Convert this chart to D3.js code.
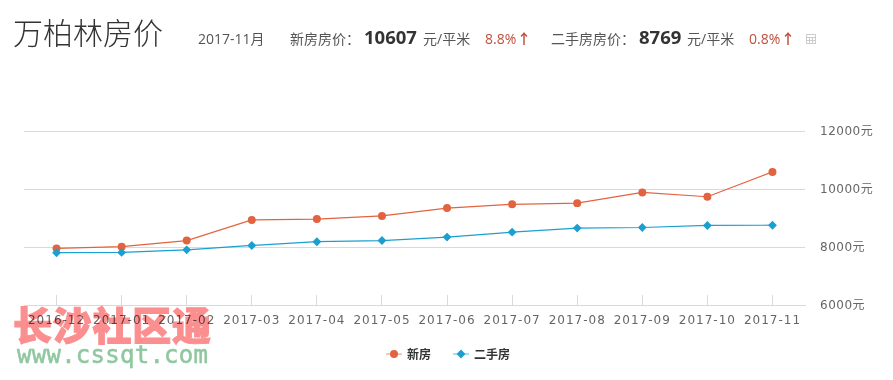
<!DOCTYPE html>
<html>
<head>
  <meta charset="utf-8">
  <title>万柏林房价</title>
  <script src="https://d3js.org/d3.v7.min.js"></script>
  <style>
  html, body{
    margin: 0;
    background: #fff;
    overflow: hidden;
  }
  svg text{
    font-family: "Open Sans", "Noto Sans CJK SC", sans-serif;
  }
  .axis path,
  .axis line {
    fill: none;
    stroke: #d9d9d9;
    shape-rendering: crispEdges;
  }
  .axis text {
    fill: #666;
    font-family: "DejaVu Sans", "Noto Sans CJK SC", sans-serif;
    font-size: 12px;
    letter-spacing: 1px;
  }
  .axis.y-labels text {
    letter-spacing: 0.5px;
  }
  </style>
</head>
<body>
  <div id="chart"></div>
  <script>
  var months = ["2016-12","2017-01","2017-02","2017-03","2017-04","2017-05","2017-06","2017-07","2017-08","2017-09","2017-10","2017-11"]
  var newHouse = [7970,8030,8240,8950,8980,9090,9360,9490,9530,9900,9750,10607]
  var oldHouse = [7820,7830,7920,8070,8200,8240,8360,8530,8670,8690,8760,8769]
  var yTicks = [6000,8000,10000,12000]
  var legendNames = ["新房","二手房"]

  var red = "#e2633f", blue = "#1b9fd0"

  var svg = d3.select("#chart").append("svg")
    .attr("width", 893)
    .attr("height", 380)

  // header line
  function label(x, y, str, size, color, weight){
    return svg.append("text").attr("x", x).attr("y", y).text(str)
      .style("font-size", size + "px")
      .style("fill", color)
      .style("font-weight", weight || 400)
  }
  label(13, 44, "万柏林房价", 30, "#333", 300)
  label(198, 44, "2017-11月", 14, "#555")
  label(290, 44, "新房房价：", 14, "#555")
  label(364, 44, "10607", 18.5, "#333", 700)
  label(423, 44, "元/平米", 14, "#555")
  label(485, 44, "8.8%", 14, "#c0503c")
  label(517, 44, "↑", 14, "#c0503c").style("font-weight", 700)
  label(551, 44, "二手房房价：", 14, "#555")
  label(639, 44, "8769", 18.5, "#333", 700)
  label(687, 44, "元/平米", 14, "#555")
  label(749, 44, "0.8%", 14, "#c0503c")
  label(781, 44, "↑", 14, "#c0503c").style("font-weight", 700)

  // small table icon
  var icon = svg.append("g").attr("transform", "translate(806,34)")
    .attr("fill", "none").attr("stroke", "#ccc").style("shape-rendering", "crispEdges")
  icon.append("rect").attr("x", 0.5).attr("y", 0.5).attr("width", 9).attr("height", 9)
  icon.append("path").attr("d", "M0.5,3.5H9.5M0.5,6.5H9.5M3.5,3.5V9.5M6.5,3.5V9.5")

  // chart
  var x = d3.scaleBand().domain(months).range([24, 805])
  var y = d3.scaleLinear().domain([6000, 12000]).range([305.5, 131.5])

  var grid = svg.append("g").attr("class", "axis")
  grid.selectAll("line").data(yTicks).enter().append("line")
    .attr("x1", 24).attr("x2", 805)
    .attr("y1", function(d){ return Math.floor(y(d)) + 0.5 })
    .attr("y2", function(d){ return Math.floor(y(d)) + 0.5 })

  var yAxis = svg.append("g").attr("class", "axis y-labels")
    .attr("transform", "translate(820,-1)")
    .call(d3.axisRight(y).tickValues(yTicks).tickSize(0).tickPadding(0).tickFormat(function(d){ return d + "元" }))
  yAxis.select(".domain").remove()

  var xAxis = svg.append("g").attr("class", "axis")
    .attr("transform", "translate(0,305)")
    .call(d3.axisBottom(x).tickSize(-10).tickPadding(10).tickSizeOuter(0))
  xAxis.selectAll("text").attr("dy", "0.35em").attr("y", 15)

  var line = d3.line()
    .x(function(d, i){ return x(months[i]) + x.bandwidth() / 2 })
    .y(function(d){ return y(d) })

  function drawSeries(values, color, symbol, size){
    svg.append("path").attr("d", line(values))
      .attr("fill", "none").attr("stroke", color).attr("stroke-width", 1.2)
    svg.selectAll(null).data(values).enter().append("path")
      .attr("d", d3.symbol().type(symbol).size(size))
      .attr("fill", color)
      .attr("transform", function(d, i){
        return "translate(" + (x(months[i]) + x.bandwidth() / 2) + "," + y(d) + ")"
      })
  }
  drawSeries(newHouse, red, d3.symbolCircle, 50)
  drawSeries(oldHouse, blue, d3.symbolDiamond2, 50)

  // legend
  function legendItem(lx, name, color, symbol, size){
    svg.append("line").attr("x1", lx).attr("x2", lx + 16).attr("y1", 354).attr("y2", 354)
      .attr("stroke", color).attr("stroke-width", 1).attr("opacity", 0.7)
    svg.append("path").attr("d", d3.symbol().type(symbol).size(size))
      .attr("fill", color).attr("transform", "translate(" + (lx + 8) + ",354)")
    label(lx + 21, 358.5, name, 12, "#333", 700)
  }
  legendItem(386, legendNames[0], red, d3.symbolCircle, 50)
  legendItem(453, legendNames[1], blue, d3.symbolDiamond2, 50)

  // site watermark over the bottom left corner, tick labels show through it
  svg.append("text").attr("x", 13).attr("y", 340).text("长沙社区通")
    .style("font-family", "'Noto Sans CJK SC'")
    .style("font-size", "39px")
    .style("font-weight", 900)
    .style("fill", "#fb8f8f")
    .style("stroke", "#fb8f8f")
    .style("stroke-width", 1)
    .style("mix-blend-mode", "multiply")
    .attr("textLength", 198)
  svg.append("text").attr("x", 17).attr("y", 363).text("www.cssqt.com")
    .style("font-family", "'DejaVu Sans Mono'")
    .style("font-size", "24px")
    .style("fill", "#8fc79f")
    .style("stroke", "#8fc79f")
    .style("stroke-width", 0.5)
    .attr("textLength", 191)
  </script>
</body>
</html>
